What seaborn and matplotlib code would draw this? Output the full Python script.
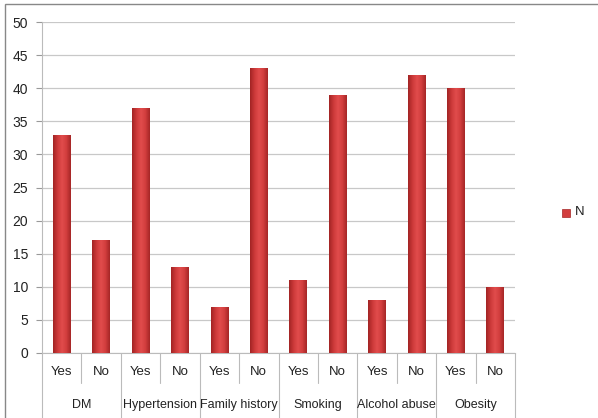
import numpy as np
import pandas as pd
import matplotlib
matplotlib.use("Agg")
import matplotlib.pyplot as plt
from matplotlib.colors import LinearSegmentedColormap
from matplotlib.lines import Line2D
from matplotlib.patches import Rectangle
import seaborn as sns

groups = ["DM", "Hypertension", "Family history", "Smoking", "Alcohol abuse", "Obesity"]
answers = ["Yes", "No"]
yes_vals = [33, 37, 7, 11, 8, 40]
no_vals = [17, 13, 43, 39, 42, 10]

rows = []
for g, y, n in zip(groups, yes_vals, no_vals):
    rows.append({"key": g + "|Yes", "group": g, "answer": "Yes", "N": y})
    rows.append({"key": g + "|No", "group": g, "answer": "No", "N": n})
df = pd.DataFrame(rows)

sns.set_style("white")
plt.rcParams["font.family"] = ["Liberation Sans", "DejaVu Sans"]

fig = plt.figure(figsize=(5.98, 4.18), dpi=100)
ax = fig.add_axes([42 / 598, 1 - 353 / 418, (515 - 42) / 598, (353 - 22) / 418])

sns.barplot(data=df, x="key", y="N", order=list(df["key"]), color="#C93A3A",
            width=0.45, ax=ax, edgecolor="none")

# cylinder-ish shading like the Excel bars
cmap = LinearSegmentedColormap.from_list(
    "bar", ["#A22424", "#CC3939", "#E14C4C", "#D23E3E", "#A52626"])
grad = np.linspace(0, 1, 64).reshape(1, -1)
for p in ax.patches:
    x0, y0 = p.get_x(), p.get_y()
    w, h = p.get_width(), p.get_height()
    im = ax.imshow(grad, cmap=cmap, extent=[x0, x0 + w, y0, y0 + h],
                   aspect="auto", zorder=3, interpolation="bilinear")
    im.set_clip_path(p)
    p.set_facecolor("none")
ax.set_xlim(-0.5, len(df) - 0.5)
ax.set_ylim(0, 50)
ax.set_yticks(range(0, 51, 5))
ax.tick_params(axis="y", labelsize=10, colors="#222222", length=4, width=0.8,
               direction="out", left=True, color="#999999", pad=6)
ax.yaxis.grid(True, color="#C8C8C8", linewidth=0.9)
ax.set_axisbelow(True)
ax.set_xticks([])
ax.set_xlabel("")
ax.set_ylabel("")
for s in ["top", "right"]:
    ax.spines[s].set_visible(False)
ax.spines["left"].set_color("#BBBBBB")
ax.spines["bottom"].set_color("#BBBBBB")

# two level category axis
tr = ax.get_xaxis_transform()
for i, row in df.iterrows():
    ax.text(i, -0.057, row["answer"], transform=tr, ha="center", va="center",
            fontsize=9.5, color="#222222")
for gi, g in enumerate(groups):
    ax.text(gi * 2 + 0.5, -0.157, g, transform=tr, ha="center", va="center",
            fontsize=9, color="#222222")
for k in range(len(df) + 1):
    bottom = -0.196 if k % 2 == 0 else -0.09
    ax.add_line(Line2D([k - 0.5, k - 0.5], [0, bottom], transform=tr,
                       color="#BBBBBB", linewidth=0.8, clip_on=False))

# legend
fig.patches.append(Rectangle((562 / 598, 1 - 217 / 418), 8 / 598, 8 / 418,
                             transform=fig.transFigure, facecolor="#D23E3E",
                             edgecolor="#A52626", linewidth=0.5))
fig.text(575 / 598, 1 - 212 / 418, "N", fontsize=9.5, color="#222222",
         ha="left", va="center")

# chart frame
fig.patches.append(Rectangle((5 / 598, -0.1), 1.1, 1 - 4 / 418 + 0.1,
                             transform=fig.transFigure, facecolor="none",
                             edgecolor="#888888", linewidth=1.0))

fig.savefig("out.png", dpi=100)
